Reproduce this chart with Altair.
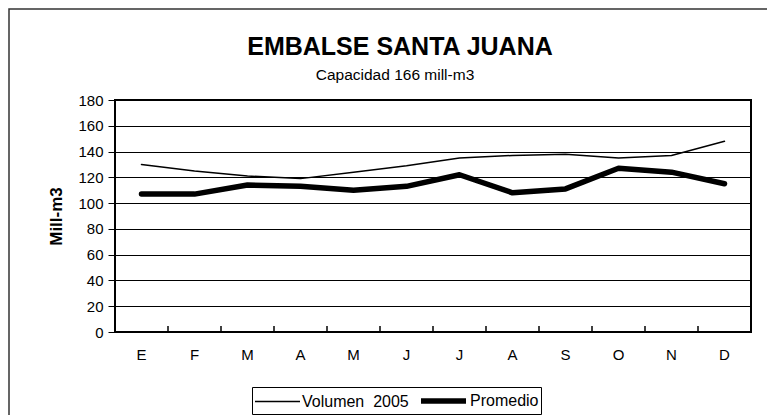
import altair as alt
import pandas as pd

months = ["E", "F", "M", "A", "M", "J", "J", "A", "S", "O", "N", "D"]
volumen_2005 = [130, 125, 121, 119, 124, 129, 135, 137, 138, 135, 137, 148]
promedio = [107, 107, 114, 113, 110, 113, 122, 108, 111, 127, 124, 115]
series_names = ["Volumen \u00a02005", "Promedio"]
y_ticks = [0, 20, 40, 60, 80, 100, 120, 140, 160, 180]
title_text = "EMBALSE SANTA JUANA"
subtitle_text = "Capacidad 166 mill-m3"

rows = []
for i in range(len(months)):
    rows.append({"idx": i, "serie": series_names[0], "valor": volumen_2005[i]})
    rows.append({"idx": i, "serie": series_names[1], "valor": promedio[i]})
df = pd.DataFrame(rows)
tick_df = pd.DataFrame({"idx": list(range(1, len(months)))})
text_df = pd.DataFrame({"t": [title_text], "s": [subtitle_text]})

W, H = 636, 232
FONT = "Liberation Sans"
label_expr = "[" + ",".join("'%s'" % m for m in months) + "][datum.value]"

x_enc = alt.X("idx:O", scale=alt.Scale(paddingInner=0, paddingOuter=0),
              axis=alt.Axis(title=None, labelExpr=label_expr, labelAngle=0,
                            domain=False, ticks=False, grid=False,
                            labelFontSize=15, labelPadding=15,
                            labelColor="black", labelFont=FONT))

lines = alt.Chart(df).mark_line(color="black", strokeCap="round", strokeJoin="round").encode(
    x=x_enc,
    y=alt.Y("valor:Q", scale=alt.Scale(domain=[0, 180], nice=False),
            axis=alt.Axis(values=y_ticks, title="Mill-m3", titleFontSize=17,
                          titleFontWeight="bold", titleFont=FONT, titleColor="black",
                          titleX=-59, titleY=H / 2, titleBaseline="middle", titleAngle=-90,
                          labelFontSize=15, labelFont=FONT, labelColor="black",
                          grid=True, gridColor="black", gridWidth=1,
                          domain=False, ticks=True, tickColor="black", tickSize=7,
                          labelPadding=5)),
    strokeWidth=alt.StrokeWidth("serie:N",
                                scale=alt.Scale(domain=series_names, range=[1.5, 5.5]),
                                legend=alt.Legend(title=None, orient="none", legendX=137,
                                                  legendY=287, direction="horizontal",
                                                  symbolType="M-1,0H4", symbolSize=324,
                                                  symbolStrokeColor="black",
                                                  symbolFillColor="black",
                                                  labelFontSize=16, labelFont=FONT,
                                                  labelColor="black", strokeColor="black",
                                                  padding=2, columnPadding=1,
                                                  labelOffset=28)),
    detail="serie:N",
)

ticks = alt.Chart(tick_df).mark_rule(color="black", strokeWidth=1.5, xOffset=-W / 24).encode(
    x=alt.X("idx:O"),
    y=alt.value(H),
    y2=alt.value(H - 6),
)

frame = alt.Chart(text_df).mark_rect(fill=None, stroke="#333333", strokeWidth=1.5).encode(
    x=alt.value(-106), x2=alt.value(700), y=alt.value(-91), y2=alt.value(400)
)

title = alt.Chart(text_df).mark_text(font=FONT, fontSize=25, fontWeight="bold",
                                     color="black", align="center", baseline="alphabetic").encode(
    text="t:N", x=alt.value(285), y=alt.value(-45)
)
subtitle = alt.Chart(text_df).mark_text(font=FONT, fontSize=15.5, color="black",
                                        align="center", baseline="alphabetic").encode(
    text="s:N", x=alt.value(280), y=alt.value(-20)
)

chart = alt.layer(frame, title, subtitle, lines, ticks).properties(
    width=W, height=H,
    autosize=alt.AutoSizeParams(type="none"),
    padding={"left": 107, "top": 92, "right": 16, "bottom": 83},
    background="white",
).configure_view(stroke="black", strokeWidth=2)

chart.save("out.html", embed_options={"renderer": "svg", "actions": False})
